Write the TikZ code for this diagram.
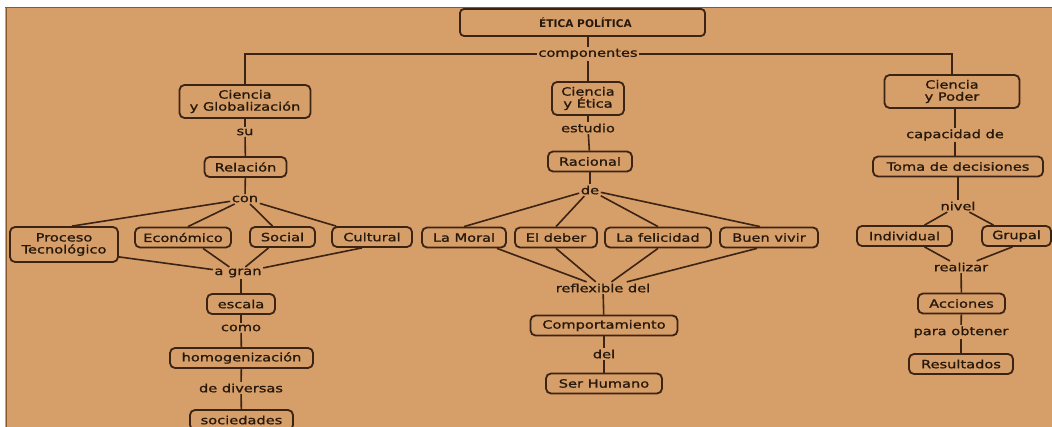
\documentclass[tikz,border=0pt]{standalone}
\usepackage{fontspec}
\setmainfont{DejaVu Sans}[FakeStretch=1.28,FakeBold=1.1]
\newfontfamily\titlefont{DejaVu Sans Bold}
\definecolor{bg}{HTML}{D69E68}
\definecolor{txt}{HTML}{26180B}
\definecolor{linec}{HTML}{3B2414}
\definecolor{edgec}{HTML}{8B5A2B}
\begin{document}
\begin{tikzpicture}[x=1pt,y=-1pt,
  font=\fontsize{11.4}{12}\selectfont,
  box/.style={draw=linec, line width=1.8pt, rounded corners=5pt, fill=bg, text=txt,
    inner sep=0pt, minimum height=20pt, align=center},
  lab/.style={text=txt, inner sep=1.5pt},
  conn/.style={draw=linec, line width=1.6pt}]
\useasboundingbox (0,0) rectangle (1052,427);
\fill[white] (0,0) rectangle (1052,427);
\fill[bg] (5,7) rectangle (1052,427);
\draw[edgec, line width=1.3pt] (5,7.6) -- (1052,7.6);
\draw[edgec, line width=1.3pt] (6.2,7) -- (6.2,427);

% top
\node[box, minimum width=245pt, minimum height=27pt, rounded corners=4pt,
  font=\titlefont\fontsize{10.6}{12}\selectfont] (etica) at (582.5,22.5) {\hspace*{6pt}ÉTICA POLÍTICA};
\node[lab] (comp) at (588,54) {componentes};

% left branch
\node[box, minimum width=131pt, minimum height=33pt] (cyg) at (245,101.5) {Ciencia\\y Globalización};
\node[lab] (su) at (245,132) {su};
\node[box, minimum width=82pt] (rel) at (245.5,167) {Relación};
\node[lab] (con) at (245,199) {con};
\node[box, minimum width=108pt, minimum height=35pt] (proc) at (64,244.5) {Proceso\\Tecnológico};
\node[box, minimum width=96pt] (econ) at (183,237.5) {Económico};
\node[box, minimum width=65pt] (soc) at (282.5,237) {Social};
\node[box, minimum width=80pt] (cult) at (372,237) {Cultural};
\node[lab] (agran) at (238,273) {a gran};
\node[box, minimum width=68pt] (esc) at (241,304) {escala};
\node[lab] (como) at (241,328) {como};
\node[box, minimum width=143pt] (homo) at (241.5,358) {homogenización};
\node[lab] (divers) at (241,388) {de diversas};
\node[box, minimum width=103pt] (soci) at (241.5,420) {sociedades};

% middle branch
\node[box, minimum width=72pt, minimum height=33pt] (cye) at (588,98.5) {Ciencia\\y Ética};
\node[lab] (estudio) at (588,128) {estudio};
\node[box, minimum width=84pt] (rac) at (590,161.5) {Racional};
\node[lab] (de) at (590,190) {de};
\node[box, minimum width=84pt] (moral) at (464,237.5) {La Moral};
\node[box, minimum width=82pt] (deber) at (556,237.5) {El deber};
\node[box, minimum width=106pt] (feli) at (658,237.5) {La felicidad};
\node[box, minimum width=98pt] (buen) at (769,237.5) {Buen vivir};
\node[lab] (refl) at (603,288) {reflexible del};
\node[box, minimum width=147pt] (compo) at (604,325.5) {Comportamiento};
\node[lab] (del) at (604,354) {del};
\node[box, minimum width=116pt] (ser) at (604,383.5) {Ser Humano};

% right branch
\node[box, minimum width=135pt, minimum height=33pt] (cyp) at (952,91.5) {Ciencia\\y Poder};
\node[lab] (capa) at (955,135) {capacidad de};
\node[box, minimum width=170pt] (toma) at (958,166.5) {Toma de decisiones};
\node[lab] (nivel) at (958,206) {nivel};
\node[box, minimum width=95pt] (indiv) at (904.5,236) {Individual};
\node[box, minimum width=69pt] (grup) at (1016.5,236) {Grupal};
\node[lab] (real) at (961,267) {realizar};
\node[box, minimum width=87pt] (acc) at (961.5,303.5) {Acciones};
\node[lab] (para) at (961,332) {para obtener};
\node[box, minimum width=104pt] (res) at (961,364) {Resultados};

% connectors top
\draw[conn] (etica.south -| comp.north) -- (comp.north);
\draw[conn] (comp.west) -| (cyg.north);
\draw[conn] (comp.east) -| (cyp.north);
\draw[conn] (comp) -- (cye);

% left
\draw[conn] (cyg) -- (su);
\draw[conn] (su) -- (rel);
\draw[conn] (rel) -- (con);
\draw[conn] (con) -- ([xshift=8pt]proc.north);
\draw[conn] (con) -- ([xshift=5pt]econ.north);
\draw[conn] (con) -- ([xshift=-10pt]soc.north);
\draw[conn] (con) -- ([xshift=5pt]cult.north west);
\draw[conn] ([yshift=6pt]proc.south east) -- (agran);
\draw[conn] ([xshift=20pt]econ.south) -- (agran);
\draw[conn] ([xshift=-14pt]soc.south) -- (agran);
\draw[conn] ([xshift=-10pt]cult.south) -- (agran);
\draw[conn] (esc.north) -- (esc.north |- agran.south);
\draw[conn] (esc) -- (como);
\draw[conn] (como) -- (homo);
\draw[conn] (homo) -- (divers);
\draw[conn] (divers) -- (soci);

% middle
\draw[conn] (cye) -- (estudio);
\draw[conn] (estudio) -- (rac);
\draw[conn] (rac) -- (de);
\draw[conn] (de) -- (moral.north);
\draw[conn] (de) -- (deber.north);
\draw[conn] (de) -- (feli.north);
\draw[conn] (de) -- ([xshift=-9pt]buen.north);
\draw[conn] ([xshift=33pt]moral.south) -- (refl);
\draw[conn] (deber.south) -- (refl);
\draw[conn] (feli.south) -- (refl);
\draw[conn] ([xshift=-12pt]buen.south) -- (refl);
\draw[conn] (refl) -- (compo);
\draw[conn] (compo) -- (del);
\draw[conn] (del) -- (ser);

% right
\draw[conn] (cyp.south -| capa.north) -- (capa.north);
\draw[conn] (capa.south) -- (capa.south |- toma.north);
\draw[conn] (toma) -- (nivel);
\draw[conn] (nivel) -- ([xshift=20pt]indiv.north);
\draw[conn] (nivel) -- ([xshift=-23pt]grup.north);
\draw[conn] ([xshift=20pt]indiv.south) -- (real);
\draw[conn] ([xshift=-4pt]grup.south) -- (real);
\draw[conn] (real) -- (acc);
\draw[conn] (acc) -- (para);
\draw[conn] (para) -- (res);
\end{tikzpicture}
\end{document}
